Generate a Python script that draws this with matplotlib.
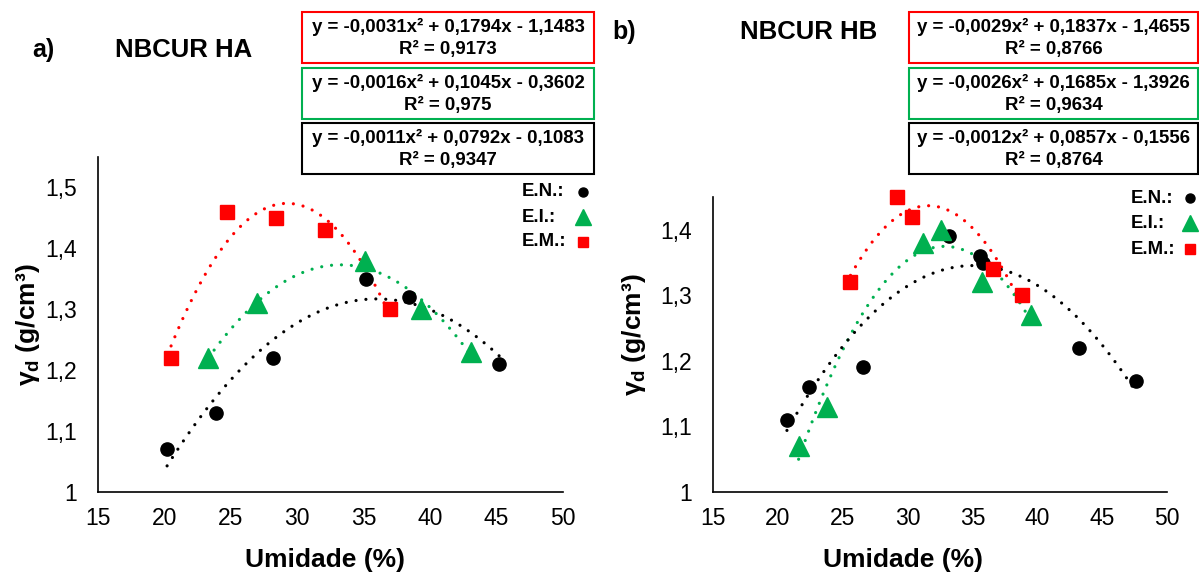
import numpy as np
import matplotlib
matplotlib.use("Agg")
import matplotlib.pyplot as plt
from matplotlib.lines import Line2D
from matplotlib.patches import Rectangle
from matplotlib.ticker import FuncFormatter

plt.rcParams['font.family'] = ['Liberation Sans', 'DejaVu Sans']
plt.rcParams['mathtext.fontset'] = 'custom'
plt.rcParams['mathtext.rm'] = 'Liberation Sans:bold'
plt.rcParams['mathtext.it'] = 'Liberation Sans:bold'
plt.rcParams['mathtext.bf'] = 'Liberation Sans:bold'

# ---------------- data ----------------
# Panel a) NBCUR HA
ha_en_x = [20.2, 23.9, 28.2, 35.2, 38.4, 45.2]
ha_en_y = [1.07, 1.13, 1.22, 1.35, 1.32, 1.21]
ha_ei_x = [23.3, 27.0, 35.1, 39.3, 43.1]
ha_ei_y = [1.22, 1.31, 1.38, 1.30, 1.23]
ha_em_x = [20.5, 24.7, 28.4, 32.1, 37.0]
ha_em_y = [1.22, 1.46, 1.45, 1.43, 1.30]
ha_eqs = [("y = -0,0031x² + 0,1794x - 1,1483", "R² = 0,9173"),
          ("y = -0,0016x² + 0,1045x - 0,3602", "R² = 0,975"),
          ("y = -0,0011x² + 0,0792x - 0,1083", "R² = 0,9347")]

# Panel b) NBCUR HB
hb_en_x = [20.7, 22.4, 26.6, 33.2, 35.6, 35.8, 43.2, 47.6]
hb_en_y = [1.11, 1.16, 1.19, 1.39, 1.36, 1.35, 1.22, 1.17]
hb_ei_x = [21.6, 23.75, 31.2, 32.6, 35.7, 39.5]
hb_ei_y = [1.07, 1.13, 1.38, 1.40, 1.32, 1.27]
hb_em_x = [25.6, 29.2, 30.35, 36.6, 38.8]
hb_em_y = [1.32, 1.45, 1.42, 1.34, 1.30]
hb_eqs = [("y = -0,0029x² + 0,1837x - 1,4655", "R² = 0,8766"),
          ("y = -0,0026x² + 0,1685x - 1,3926", "R² = 0,9634"),
          ("y = -0,0012x² + 0,0857x - 0,1556", "R² = 0,8764")]

legend_labels = ["E.N.:", "E.I.:", "E.M.:"]
x_ticks = [15, 20, 25, 30, 35, 40, 45, 50]

RED = "#FF0000"
GREEN = "#00B050"
BLACK = "#000000"

W, H = 1199, 575
fig = plt.figure(figsize=(W / 100, H / 100), dpi=100)


def fx(px):
    return px / W


def fy(py):
    return 1 - py / H


def make_axes(left, right, top, bottom):
    return fig.add_axes([fx(left), fy(bottom), fx(right) - fx(left), fy(top) - fy(bottom)])


def comma(v, pos):
    if abs(v - round(v)) < 1e-9:
        return f"{int(round(v))}"
    return f"{v:.1f}".replace(".", ",")


def trend(ax, x, y, color):
    c = np.polyfit(x, y, 2)
    xs = np.linspace(min(x), max(x), 200)
    ax.plot(xs, np.polyval(c, xs), color=color, lw=2.3,
            dashes=(0.01, 3.1), dash_capstyle='round', zorder=2, clip_on=False)


def panel(ax, en, ei, em, ytop, yticks):
    ax.set_xlim(15, 50)
    ax.set_ylim(1, ytop)
    for s in ['top', 'right']:
        ax.spines[s].set_visible(False)
    for s in ['left', 'bottom']:
        ax.spines[s].set_linewidth(1.2)
        ax.spines[s].set_color('black')
    ax.set_xticks(x_ticks)
    ax.set_yticks(yticks)
    ax.xaxis.set_major_formatter(FuncFormatter(comma))
    ax.yaxis.set_major_formatter(FuncFormatter(comma))
    ax.tick_params(axis='both', length=0, labelsize=16.5, colors='black')
    ax.tick_params(axis='x', pad=11)
    ax.tick_params(axis='y', pad=15)
    # trendlines
    trend(ax, *em, RED)
    trend(ax, *ei, GREEN)
    trend(ax, *en, BLACK)
    ax.plot(en[0], en[1], 'o', color=BLACK, ms=9.5, ls='none', zorder=3, clip_on=False)
    ax.plot(ei[0], ei[1], '^', color=GREEN, ms=14, ls='none', zorder=3, clip_on=False)
    ax.plot(em[0], em[1], 's', color=RED, ms=10, ls='none', zorder=3, clip_on=False)


axa = make_axes(98, 563, 157, 492)
panel(axa, (ha_en_x, ha_en_y), (ha_ei_x, ha_ei_y), (ha_em_x, ha_em_y), 1.55,
      [1, 1.1, 1.2, 1.3, 1.4, 1.5])
axb = make_axes(713, 1167, 197, 492)
panel(axb, (hb_en_x, hb_en_y), (hb_ei_x, hb_ei_y), (hb_em_x, hb_em_y), 1.45,
      [1, 1.1, 1.2, 1.3, 1.4])

# axis labels
for xc, yc in [(325, 560), (903, 560)]:
    fig.text(fx(xc), fy(yc), "Umidade (%)", ha='center', va='center',
             fontsize=19, fontweight='bold')
for xc, yc in [(28, 325), (634, 335)]:
    fig.text(fx(xc), fy(yc), r"$\gamma_d$ (g/cm³)", ha='center', va='center',
             rotation=90, fontsize=19, fontweight='bold')

# titles
fig.text(fx(32), fy(50), "a)", ha='left', va='center', fontsize=18, fontweight='bold')
fig.text(fx(115), fy(50), "NBCUR HA", ha='left', va='center', fontsize=18.5, fontweight='bold')
fig.text(fx(612), fy(32), "b)", ha='left', va='center', fontsize=18, fontweight='bold')
fig.text(fx(740), fy(32), "NBCUR HB", ha='left', va='center', fontsize=18.5, fontweight='bold')

# equation boxes
box_colors = [RED, GREEN, BLACK]
box_tops = [12, 68, 123]
box_h = 51


def eq_boxes(left, right, eqs):
    cx = (left + right) / 2
    for (l1, l2), col, top in zip(eqs, box_colors, box_tops):
        r = Rectangle((fx(left), fy(top + box_h)), fx(right) - fx(left),
                      fy(top) - fy(top + box_h), transform=fig.transFigure,
                      fill=False, edgecolor=col, lw=1.5, clip_on=False)
        fig.add_artist(r)
        fig.text(fx(cx), fy(top + 15), l1, ha='center', va='center',
                 fontsize=13.4, fontweight='bold')
        fig.text(fx(cx), fy(top + 37), l2, ha='center', va='center',
                 fontsize=13.4, fontweight='bold')


eq_boxes(302, 594, ha_eqs)
eq_boxes(909, 1198, hb_eqs)

# legends
leg_markers = [('o', BLACK, 6.5), ('^', GREEN, 11), ('s', RED, 7.5)]


def legend(tx, mx, ys):
    for lab, (m, c, s), yy in zip(legend_labels, leg_markers, ys):
        fig.text(fx(tx), fy(yy), lab, ha='left', va='center', fontsize=13.4,
                 fontweight='bold')
        fig.add_artist(Line2D([fx(mx)], [fy(yy)], marker=m, color=c, ms=s,
                              ls='none', transform=fig.transFigure))


legend(522, 583, [192, 217, 242])
legend(1131, 1190, [198, 223, 249])

fig.savefig("out.png", dpi=100)
